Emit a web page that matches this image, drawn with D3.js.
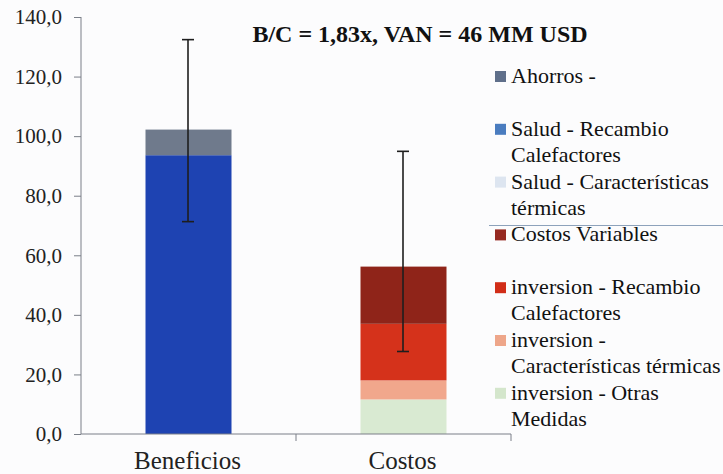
<!DOCTYPE html>
<html>
<head>
<meta charset="utf-8">
<title>B/C</title>
<script src="https://cdn.jsdelivr.net/npm/d3@7"></script>
<style>
    body { margin: 0; background: #fcfcfd; }
</style>
</head>
<body>
<svg width="723" height="474"></svg>
<script>
// categories and series (bottom to top of the stack)
var categories = ["Beneficios", "Costos"];
var seriesNames = [
    "inversion - Otras Medidas",
    "inversion - Características térmicas",
    "inversion - Recambio Calefactores",
    "Costos Variables",
    "Salud - Características térmicas",
    "Salud - Recambio Calefactores",
    "Ahorros -"
];
var seriesColors = ["#d9ead2", "#f1a78c", "#d5321b", "#8f2419", "#dfe7f3", "#1e43b2", "#6f7a8c"];
var legendColors = ["#d4e6cc", "#eea68a", "#d12d18", "#962a22", "#dde5f0", "#4a7cbf", "#5f6f8a"];

// values per series: [Beneficios, Costos]
var otrasMedidas = [0, 11.6];
var invCaracteristicas = [0, 6.4];
var invRecambio = [0, 19.0];
var costosVariables = [0, 19.2];
var saludCaracteristicas = [0, 0];
var saludRecambio = [93.6, 0];
var ahorros = [8.6, 0];

// error bars: [low, high]
var errLow = [71.3, 27.7];
var errHigh = [132.4, 94.9];

var yTicks = [0, 20, 40, 60, 80, 100, 120, 140];
var title = "B/C = 1,83x, VAN = 46 MM USD";

// legend lines, in the order shown (top first)
var legendLabels = [
    ["Ahorros -"],
    ["Salud - Recambio", "Calefactores"],
    ["Salud - Características", "térmicas"],
    ["Costos Variables"],
    ["inversion - Recambio", "Calefactores"],
    ["inversion -", "Características térmicas"],
    ["inversion - Otras", "Medidas"]
];

var valueLists = [otrasMedidas, invCaracteristicas, invRecambio, costosVariables,
    saludCaracteristicas, saludRecambio, ahorros];

var rows = categories.map(function (c, i) {
    var r = {cat: c};
    seriesNames.forEach(function (s, j) { r[s] = valueLists[j][i]; });
    return r;
});

var serif = "'Liberation Serif', 'Times New Roman', serif";
var axisColor = "#7a7f88";
var svg = d3.select("svg");
var x0 = 81, x1 = 511, yTop = 17, yBottom = 434;

var x = d3.scaleBand().domain(categories).range([x0, x1]).paddingInner(0).paddingOuter(0);
var y = d3.scaleLinear().domain([0, 140]).range([yBottom, yTop]);
var barW = 86;

var stack = d3.stack().keys(seriesNames)(rows);

svg.append("g").selectAll("g")
    .data(stack)
    .join("g")
    .attr("fill", function (d, i) { return seriesColors[i]; })
    .selectAll("rect")
    .data(function (d) { return d; })
    .join("rect")
    .attr("x", function (d) { return x(d.data.cat) + x.bandwidth() / 2 - barW / 2; })
    .attr("width", barW)
    .attr("y", function (d) { return y(d[1]); })
    .attr("height", function (d) { return y(d[0]) - y(d[1]); });

// y axis
var yAxis = svg.append("g")
    .attr("transform", "translate(" + x0 + ",0)")
    .call(d3.axisLeft(y).tickValues(yTicks).tickSize(7).tickPadding(12)
        .tickFormat(function (d) { return d3.format(".1f")(d).replace(".", ","); }));
yAxis.select(".domain").attr("d", "M0," + yTop + "V" + yBottom).attr("stroke", axisColor);
yAxis.selectAll(".tick line").attr("stroke", axisColor);
yAxis.selectAll(".tick text")
    .style("font-family", serif)
    .style("font-size", "21px")
    .attr("fill", "#222");

// x axis with ticks at band edges
var xAxis = svg.append("g")
    .attr("transform", "translate(0," + yBottom + ")");
xAxis.append("path").attr("d", "M" + x0 + ",0H" + x1).attr("stroke", axisColor);
[x0 + x.bandwidth(), x1].forEach(function (px) {
    xAxis.append("line").attr("x1", px).attr("x2", px).attr("y1", 0).attr("y2", 7)
        .attr("stroke", axisColor);
});
xAxis.selectAll("text.cat")
    .data(categories)
    .join("text")
    .attr("class", "cat")
    .attr("x", function (d) { return x(d) + x.bandwidth() / 2 - 1; })
    .attr("y", 35)
    .attr("text-anchor", "middle")
    .style("font-family", serif)
    .style("font-size", "25px")
    .attr("fill", "#222")
    .text(function (d) { return d; });

// error bars
var eb = svg.append("g").attr("stroke", "#1e1e1e").attr("stroke-width", 1.6);
categories.forEach(function (c, i) {
    var cx = x(c) + x.bandwidth() / 2 - 0.5;
    eb.append("line").attr("x1", cx).attr("x2", cx).attr("y1", y(errLow[i])).attr("y2", y(errHigh[i]));
    eb.append("line").attr("x1", cx - 6).attr("x2", cx + 6).attr("y1", y(errLow[i])).attr("y2", y(errLow[i]));
    eb.append("line").attr("x1", cx - 6).attr("x2", cx + 6).attr("y1", y(errHigh[i])).attr("y2", y(errHigh[i]));
});

// title
svg.append("text")
    .attr("x", 420).attr("y", 42)
    .attr("text-anchor", "middle")
    .style("font-family", serif)
    .style("font-weight", "bold")
    .style("font-size", "24px")
    .attr("fill", "#111")
    .text(title);

// legend
var legendOrder = seriesNames.slice().reverse();
var legendSwatch = legendColors.slice().reverse();
var lg = svg.append("g");
legendOrder.forEach(function (s, i) {
    var cy = 76 + i * 52.8;
    lg.append("rect").attr("x", 495).attr("y", cy - 5).attr("width", 11).attr("height", 11)
        .attr("fill", legendSwatch[i]);
    legendLabels[i].forEach(function (line, k) {
        lg.append("text").attr("x", 511).attr("y", cy + 7 + k * 26)
            .style("font-family", serif)
            .style("font-size", "22px")
            .attr("fill", "#111")
            .text(line);
    });
});

// thin line crossing the legend
svg.append("line").attr("x1", 489).attr("x2", 723).attr("y1", 225.5).attr("y2", 225.5)
    .attr("stroke", "#8da2bb").attr("stroke-width", 1);
</script>
</body>
</html>
